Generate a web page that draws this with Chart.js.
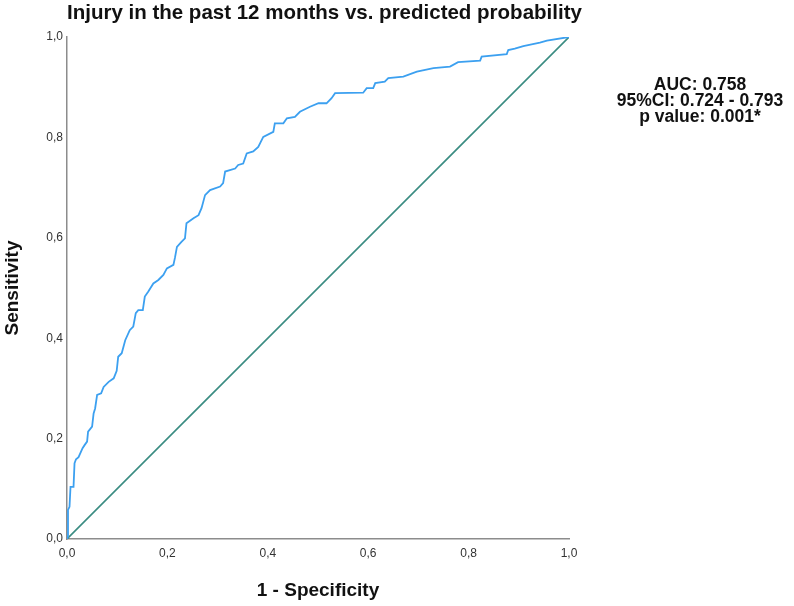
<!DOCTYPE html>
<html>
<head>
<meta charset="utf-8">
<script src="https://cdn.jsdelivr.net/npm/chart.js@4.4.1/dist/chart.umd.min.js"></script>
<style>
  html, body { margin: 0; padding: 0; background: #ffffff; }
  #wrap { position: relative; width: 794px; height: 606px; }
  canvas { display: block; }
</style>
</head>
<body>
<div id="wrap"><canvas id="c" width="794" height="606"></canvas></div>
<script>
// ---- Data ----
const chartTitle = "Injury in the past 12 months vs. predicted probability";
const xAxisTitle = "1 - Specificity";
const yAxisTitle = "Sensitivity";
const tickValues = [0, 0.2, 0.4, 0.6, 0.8, 1.0];
const statLines = ["AUC: 0.758", "95%CI: 0.724 - 0.793", "p value: 0.001*"];

// ROC curve: 1 - specificity (x) and sensitivity (y)
const rocFpr = [0.000, 0.002, 0.002, 0.005, 0.007, 0.013, 0.015, 0.018, 0.023, 0.031,
  0.035, 0.040, 0.042, 0.050, 0.053, 0.056, 0.060, 0.068, 0.073, 0.083,
  0.093, 0.099, 0.102, 0.109, 0.116, 0.125, 0.132, 0.137, 0.142, 0.151,
  0.155, 0.162, 0.172, 0.182, 0.192, 0.199, 0.212, 0.215, 0.219, 0.228,
  0.235, 0.238, 0.252, 0.262, 0.268, 0.275, 0.285, 0.305, 0.311, 0.315,
  0.335, 0.341, 0.351, 0.358, 0.371, 0.381, 0.386, 0.391, 0.411, 0.414,
  0.431, 0.438, 0.454, 0.464, 0.484, 0.501, 0.517, 0.527, 0.534, 0.590,
  0.597, 0.610, 0.614, 0.633, 0.640, 0.670, 0.697, 0.730, 0.763, 0.779,
  0.823, 0.826, 0.876, 0.879, 0.892, 0.909, 0.942, 0.956, 1.000];
const rocTpr = [0.000, 0.006, 0.058, 0.064, 0.104, 0.104, 0.151, 0.159, 0.163, 0.181,
  0.187, 0.194, 0.214, 0.224, 0.250, 0.260, 0.287, 0.290, 0.303, 0.313,
  0.320, 0.335, 0.363, 0.370, 0.396, 0.416, 0.423, 0.450, 0.456, 0.456,
  0.483, 0.493, 0.509, 0.516, 0.526, 0.539, 0.546, 0.560, 0.582, 0.592,
  0.599, 0.629, 0.639, 0.645, 0.659, 0.685, 0.695, 0.702, 0.709, 0.732,
  0.738, 0.745, 0.748, 0.768, 0.772, 0.781, 0.791, 0.801, 0.811, 0.828,
  0.828, 0.838, 0.841, 0.851, 0.861, 0.868, 0.868, 0.878, 0.888, 0.889,
  0.898, 0.898, 0.908, 0.911, 0.918, 0.921, 0.931, 0.938, 0.941, 0.950,
  0.953, 0.961, 0.966, 0.974, 0.977, 0.982, 0.989, 0.993, 1.000];
// Reference (chance) line
const refX = [0, 1];
const refY = [0, 1];

const toPoints = (xs, ys) => xs.map((x, i) => ({ x: x, y: ys[i] }));
const fmt = v => Number(v).toFixed(1).replace('.', ',');

const FONT = "'Liberation Sans', Arial, sans-serif";

const textPlugin = {
  id: 'texts',
  afterDraw(chart) {
    const ctx = chart.ctx;
    ctx.save();
    ctx.fillStyle = '#111';
    ctx.textBaseline = 'middle';
    ctx.font = "bold 20.5px " + FONT;
    ctx.textAlign = 'left';
    ctx.fillText(chartTitle, 67, 13);
    ctx.font = "bold 17.5px " + FONT;
    ctx.textAlign = 'center';
    statLines.forEach((t, i) => ctx.fillText(t, 700, 85 + i * 16));
    ctx.restore();
  }
};

new Chart(document.getElementById('c'), {
  type: 'scatter',
  data: {
    datasets: [
      {
        data: toPoints(refX, refY),
        showLine: true,
        borderColor: 'rgb(58,140,130)',
        borderWidth: 1.6,
        pointRadius: 0,
        tension: 0,
        order: 2
      },
      {
        data: toPoints(rocFpr, rocTpr),
        showLine: true,
        borderColor: 'rgb(60,160,240)',
        borderWidth: 1.8,
        pointRadius: 0,
        tension: 0,
        order: 1
      }
    ]
  },
  options: {
    responsive: false,
    animation: false,
    layout: { padding: { left: 0, right: 225, top: 37, bottom: 0 } },
    plugins: { legend: { display: false }, tooltip: { enabled: false }, title: { display: false } },
    scales: {
      x: {
        type: 'linear', min: 0, max: 1,
        afterBuildTicks: s => { s.ticks = tickValues.map(v => ({ value: v })); },
        afterFit: s => { s.height = 67; },
        grid: { display: false, drawTicks: false },
        border: { display: true, color: '#8c8c8c', width: 1.5 },
        ticks: { callback: fmt, color: '#333', font: { family: FONT, size: 12 }, padding: 7, maxRotation: 0 },
        title: { display: true, text: xAxisTitle, color: '#111', font: { family: FONT, size: 19, weight: 'bold' }, padding: { top: 0, bottom: 4 } }
      },
      y: {
        type: 'linear', min: 0, max: 1,
        afterBuildTicks: s => { s.ticks = tickValues.map(v => ({ value: v })); },
        afterFit: s => { s.width = 67; },
        grid: { display: false, drawTicks: false },
        border: { display: true, color: '#8c8c8c', width: 1.5 },
        ticks: { callback: fmt, color: '#333', font: { family: FONT, size: 12 }, padding: 4 },
        title: { display: true, text: yAxisTitle, color: '#111', font: { family: FONT, size: 19, weight: 'bold' }, padding: { top: 1, bottom: 0 } }
      }
    }
  },
  plugins: [textPlugin]
});
</script>
</body>
</html>
